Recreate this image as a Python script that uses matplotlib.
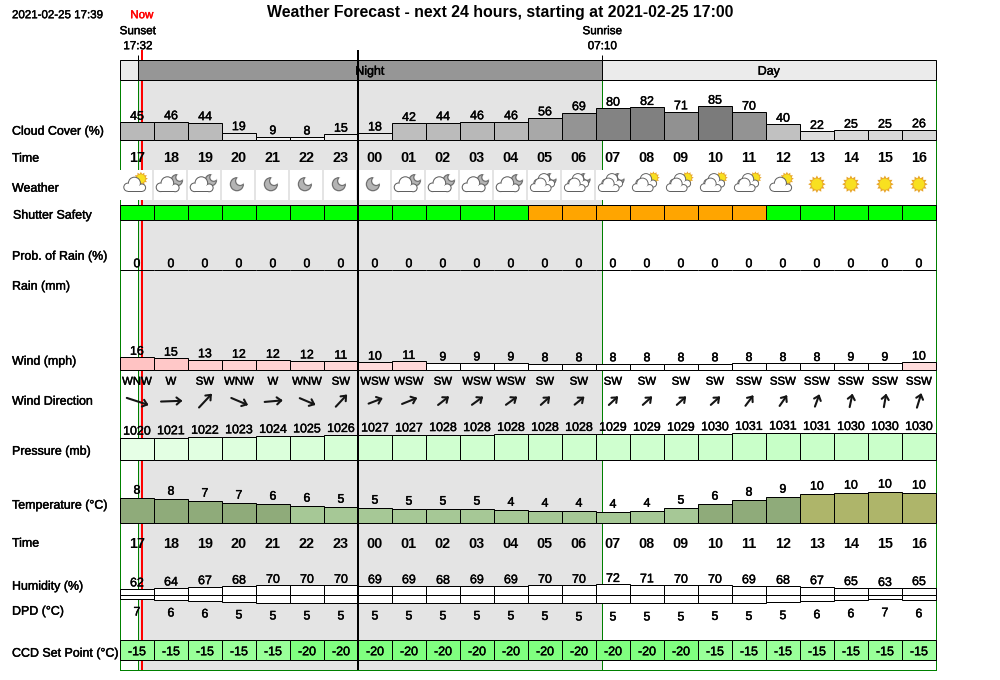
import numpy as np
import matplotlib
matplotlib.use("Agg")
import matplotlib.pyplot as plt
import matplotlib.patheffects as pe
from matplotlib.patches import Circle, Polygon, Rectangle

plt.rcParams['font.family'] = ['Liberation Sans', 'DejaVu Sans']

# hourly forecast values
hours = ['17', '18', '19', '20', '21', '22', '23', '00', '01', '02', '03', '04',
         '05', '06', '07', '08', '09', '10', '11', '12', '13', '14', '15', '16']
cloud = [45, 46, 44, 19, 9, 8, 15, 18, 42, 44, 46, 46, 56, 69, 80, 82, 71, 85, 70, 40, 22, 25, 25, 26]
weather = ['cloud_sun', 'cloud_moon', 'cloud_moon', 'moon', 'moon', 'moon', 'moon', 'moon',
           'cloud_moon', 'cloud_moon', 'cloud_moon', 'cloud_moon', 'clouds_moon', 'clouds_moon',
           'clouds_moon', 'clouds_sun', 'clouds_sun', 'clouds_sun', 'clouds_sun', 'cloud_sun',
           'sun', 'sun', 'sun', 'sun']
shutter = ['safe'] * 12 + ['caution'] * 7 + ['safe'] * 5
rain_prob = [0] * 24
wind = [16.2, 15, 13, 12.4, 12.4, 11.6, 11.2, 10, 11, 9, 9, 9, 8, 8, 8, 8, 8, 8, 8.4, 8.4, 8.4, 8.8, 8.8, 10]
wind_dir = ['WNW', 'W', 'SW', 'WNW', 'W', 'WNW', 'SW', 'WSW', 'WSW', 'SW', 'WSW', 'WSW', 'SW', 'SW',
            'SW', 'SW', 'SW', 'SW', 'SSW', 'SSW', 'SSW', 'SSW', 'SSW', 'SSW']
wind_bearing = [288, 268, 223, 293, 265, 293, 223, 249, 248, 232, 234, 234, 228, 231,
                227, 228, 228, 228, 217, 215, 200, 192, 190, 197]
pressure = [1020, 1021, 1022, 1023, 1024, 1025, 1026, 1027, 1027, 1028, 1028, 1028.4, 1028.4, 1028.4,
            1028.6, 1028.6, 1028.6, 1029.6, 1030.6, 1031.4, 1030.6, 1030.4, 1030.4, 1030.4]
temperature = [8.33, 8, 7.33, 6.67, 6.33, 5.67, 5.33, 5, 4.67, 4.67, 4.67, 4.33, 4, 4,
               3.67, 4, 5, 6.33, 7.67, 8.67, 9.67, 10, 10.33, 10]
humidity = [62, 64, 67, 68, 70, 70, 70, 69, 69, 68, 69, 69, 70, 70, 72, 71, 70, 70, 69, 68, 67, 65, 63, 65]
dpd = [7.0, 6.49, 6.0, 5.49, 5, 5, 5, 5, 5, 5, 5, 5, 4.8, 4.51,
       4.51, 4.51, 4.51, 4.8, 4.8, 5.2, 5.6, 6.1, 6.6, 6.1]
ccd = [-15] * 5 + [-20] * 12 + [-15] * 7

row_labels = [('Cloud Cover (%)', 130), ('Time', 157), ('Weather', 187), ('Shutter Safety', 214),
              ('Prob. of Rain (%)', 255), ('Rain (mm)', 285), ('Wind (mph)', 360),
              ('Wind Direction', 400), ('Pressure (mb)', 450), ('Temperature (°C)', 504),
              ('Time', 542), ('Humidity (%)', 585), ('DPD (°C)', 610), ('CCD Set Point (°C)', 652)]

sunset_h = 32 / 60
sunrise_h = 14 + 10 / 60
now_h = 39 / 60
midnight_h = 7

X0 = 120.6
CELL = 34
LW = 0.72
n = len(hours)
lefts = X0 + CELL * np.arange(n)
mids = lefts + CELL / 2
x_end = X0 + CELL * n


def x_of(h):
    return X0 + CELL * h


fig = plt.figure(figsize=(10, 6.8), dpi=100)
ax = fig.add_axes([0, 0, 1, 1])
ax.set_xlim(0.7, 1000.7)
ax.set_ylim(680.3, 0.3)
ax.axis('off')


def label(x, y, s, size=8.95, ha='center', weight='normal', color='black', heavy=0.3):
    t = ax.text(x, y + 2, s, fontsize=size, ha=ha, va='center', fontweight=weight, color=color, zorder=20)
    if heavy:
        t.set_path_effects([pe.withStroke(linewidth=heavy, foreground=color)])
    return t


def bars(base, heights, colors):
    ax.bar(lefts, -np.asarray(heights, dtype=float), bottom=base, width=CELL, align='edge',
           color=colors, edgecolor='black', linewidth=LW, zorder=5)


def grey(v):
    return str(min((255 - 1.55 * v) / 255, 1))


# background, day/night band and time markers
ax.add_patch(Rectangle((x_of(sunset_h), 80), x_of(sunrise_h) - x_of(sunset_h), 590,
                       facecolor='#e4e4e4', edgecolor='none', zorder=1))
for h0, h1, col in [(0, sunset_h, '#ebebeb'), (sunset_h, sunrise_h, '#969696'), (sunrise_h, n, '#ebebeb')]:
    ax.add_patch(Rectangle((x_of(h0), 60.5), x_of(h1) - x_of(h0), 20, facecolor=col,
                           edgecolor='black', linewidth=LW, zorder=6))
label((x_of(sunset_h) + x_of(sunrise_h)) / 2, 70, 'Night')
label((x_of(sunrise_h) + x_end) / 2, 70, 'Day')

for h in [0, sunset_h, sunrise_h, n]:
    ax.plot([x_of(h)] * 2, [80, 670.5], color='green', lw=LW, zorder=2, solid_capstyle='butt')
for h in [sunset_h, sunrise_h]:
    ax.plot([x_of(h)] * 2, [55, 60], color='black', lw=LW, zorder=2, solid_capstyle='butt')
ax.plot([X0, x_end], [670.5, 670.5], color='green', lw=LW, zorder=2)
ax.plot([x_of(now_h)] * 2, [50, 670.5], color='red', lw=1.44, zorder=3, solid_capstyle='butt')
ax.plot([x_of(midnight_h)] * 2, [50, 670.5], color='black', lw=1.44, zorder=12, solid_capstyle='butt')

# header text
ax.text(500.5, 13, 'Weather Forecast - next 24 hours, starting at 2021-02-25 17:00', fontsize=11.45,
        fontweight='bold', ha='center', va='center', zorder=20)
label(12.7, 13.5, '2021-02-25 17:39', ha='left', size=8.3)
label(142.5, 13.5, 'Now', color='red', size=8.3)
label(138.5, 29.5, 'Sunset', size=8.4)
label(138.5, 44.5, '17:32', size=8.4)
label(603, 29.5, 'Sunrise', size=8.4)
label(603, 44.5, '07:10', size=8.4)

for s, y in row_labels:
    label(13.7 if s == 'Shutter Safety' else 12.7, y, s, ha='left')

# cloud cover
bars(140.5, 0.4 * np.array(cloud), [grey(v) for v in cloud])
for x, v in zip(mids, cloud):
    label(x, 140.5 - 0.4 * v - 7.5, str(v))

# hour rows
for y in [156, 542]:
    for x, s in zip(mids, hours):
        label(x, y, s, size=10.4, weight='bold', heavy=0)


# weather icons
def sun(cx, cy, r=5.8):
    ang = np.arange(24) * np.pi / 12
    rad = np.where(np.arange(24) % 2 == 0, r * 1.5, r * 1.05)
    ax.add_patch(Polygon(np.c_[cx + rad * np.cos(ang), cy + rad * np.sin(ang)],
                         facecolor='#e8a428', edgecolor='none', zorder=7))
    ax.add_patch(Circle((cx, cy), r, facecolor='#f8e020', edgecolor='#e8b030', linewidth=0.4, zorder=7))


def moon(cx, cy, r=6.5):
    disc = Circle((cx, cy), r, facecolor='#b4b4b4', edgecolor='#707070', linewidth=0.9, zorder=7)
    ax.add_patch(disc)
    ax.add_patch(Circle((cx + r * 0.5, cy - r * 0.5), r * 0.7, facecolor='white', edgecolor='none', zorder=7))
    bite = Circle((cx + r * 0.5, cy - r * 0.5), r * 0.7, facecolor='none', edgecolor='#707070',
                  linewidth=0.9, zorder=7)
    ax.add_patch(bite)
    bite.set_clip_path(Circle((cx, cy), r, transform=ax.transData))


def puff(cx, cy, s=1.0, z=8):
    lobes = [(-7.5, 2, 4.6), (-1, -2, 6.5), (6.5, 2.5, 4.2)]
    for dx, dy, r in lobes:
        ax.add_patch(Circle((cx + dx * s, cy + dy * s), r * s, facecolor='#606060', edgecolor='none', zorder=z))
    ax.add_patch(Rectangle((cx - 7.5 * s, cy + 2 * s), 14 * s, 4.5 * s, facecolor='#606060',
                           edgecolor='none', zorder=z))
    for dx, dy, r in lobes:
        ax.add_patch(Circle((cx + dx * s, cy + dy * s), (r - 1.0) * s, facecolor='white', edgecolor='none', zorder=z))
    ax.add_patch(Rectangle((cx - 7.5 * s, cy + 1 * s), 14 * s, 4.5 * s, facecolor='white',
                           edgecolor='none', zorder=z))


for i, (x, w) in enumerate(zip(mids, weather)):
    cx = x - 1.5
    ax.add_patch(Rectangle((lefts[i], 170.5), 32, 30, facecolor='white', edgecolor='none', zorder=4))
    if w == 'sun':
        sun(x, 184.5)
    elif w == 'moon':
        moon(cx - 0.5, 184.5)
    elif w == 'cloud_sun':
        sun(cx + 5.5, 179, 4.6)
        puff(cx, 185.5, 1.0)
    elif w == 'cloud_moon':
        moon(cx + 7.5, 180.5, 5.6)
        puff(cx - 1, 185.5, 1.05)
    elif w == 'clouds_moon':
        moon(cx + 7, 179.5, 5.6)
        puff(cx + 1.5, 181.5, 0.95, z=8)
        puff(cx - 2, 186, 0.95, z=9)
    elif w == 'clouds_sun':
        sun(cx + 8, 178, 4.2)
        puff(cx + 1.5, 181.5, 0.95, z=8)
        puff(cx - 2, 186, 0.95, z=9)

# shutter safety
bars(220.5, [15] * n, ['#00ff00' if s == 'safe' else '#ffa500' for s in shutter])

# rain
bars(270.5, rain_prob, 'white')
for x, v in zip(mids, rain_prob):
    label(x, 262.5, str(v))

# wind
bars(370.5, 0.8 * np.array(wind),
     ['white' if v < 9.5 else (1, (220 - (v - 10) * 4) / 255, (220 - (v - 10) * 4) / 255) for v in wind])
for x, v in zip(mids, wind):
    label(x, 370.5 - 0.8 * v - 7.5, str(round(v)))
for x, s in zip(mids, wind_dir):
    label(x, 380, s, size=8.2)
for x, v, b in zip(mids, wind, wind_bearing):
    ln = 1.25 * v + 1
    ang = np.radians(b)
    dx, dy = -np.sin(ang), np.cos(ang)
    tip = (x + dx * ln / 2, 401.5 + dy * ln / 2)
    ax.plot([x - dx * ln / 2, tip[0]], [401.5 - dy * ln / 2, tip[1]], color='#151515', lw=1.5,
            solid_capstyle='round', zorder=7)
    for turn in [np.radians(140), np.radians(-140)]:
        hx = dx * np.cos(turn) - dy * np.sin(turn)
        hy = dx * np.sin(turn) + dy * np.cos(turn)
        ax.plot([tip[0], tip[0] + 5.5 * hx], [tip[1], tip[1] + 5.5 * hy], color='#151515', lw=1.5,
                solid_capstyle='round', zorder=7)

# pressure
p_heights = 0.45 * (np.array(pressure) - 971)
bars(460.5, p_heights, [((230 - (v - 1020) * 2.7) / 255, 1, (230 - (v - 1020) * 2.7) / 255) for v in pressure])
for x, v, h in zip(mids, pressure, p_heights):
    label(x, 460.5 - h - 8.5, str(round(v)))

# temperature
t_colors = ['#a6c896' if v < 6 else ('#8fab7a' if v < 9 else '#aeb56a') for v in temperature]
bars(523.5, 3 * np.array(temperature), t_colors)
for x, v in zip(mids, temperature):
    label(x, 523.5 - 3 * v - 9.5, str(round(v)))

# humidity above and dew point depression below the same line
h_top = 0.45 * (np.array(humidity) - 48)
d_bot = 2 * (8.65 - np.array(dpd))
ax.bar(lefts, -h_top, bottom=595.5, width=CELL, align='edge', color='white', edgecolor='black',
       linewidth=LW, zorder=5)
ax.bar(lefts, d_bot, bottom=595.5, width=CELL, align='edge', color='white', edgecolor='black',
       linewidth=LW, zorder=5)
for x, v, h in zip(mids, humidity, h_top):
    label(x, 595.5 - h - 7.5, str(v))
for x, v, h in zip(mids, dpd, d_bot):
    label(x, 595.5 + h + 12, str(round(v)))

# ccd set point
bars(660.5, [20] * n, ['#99ff99' if v == -15 else '#80ff80' for v in ccd])
for x, v in zip(mids, ccd):
    label(x, 650.5, str(v))

fig.savefig('out.png', dpi=100)
